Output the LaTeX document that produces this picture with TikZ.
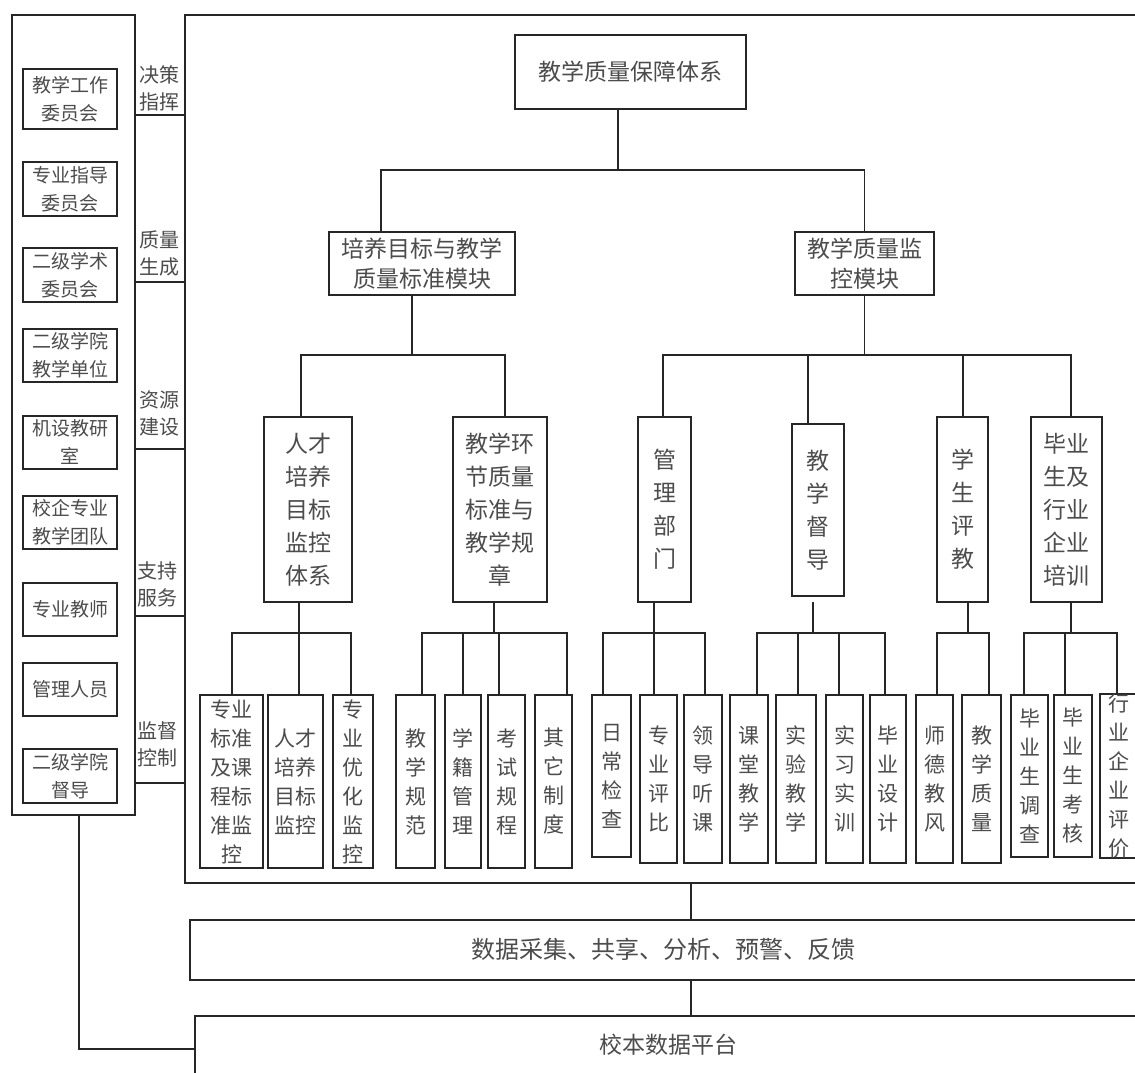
\documentclass[tikz,border=0pt]{standalone}
\usepackage{fontspec}
\setmainfont{Noto Sans CJK SC}
\tikzset{
  bx/.style={draw=black!85, line width=1.8pt, inner sep=0pt, align=center, text=black!70},
  ln/.style={draw=black!85, line width=1.8pt, line cap=rect},
  lab/.style={inner sep=0pt, align=center, text=black!70, font=\fontsize{20}{27}\selectfont},
  txt/.style={inner sep=0pt, align=center, text=black!70},
  fa/.style={font=\fontsize{19}{28}\selectfont},
  fb/.style={font=\fontsize{23}{30}\selectfont},
  fc/.style={font=\fontsize{23}{33}\selectfont},
  fd/.style={font=\fontsize{21}{29}\selectfont},
  fe/.style={font=\fontsize{24}{30}\selectfont}
}
\newcommand\B[7]{\node[bx,#1,minimum width={#5pt-#3pt},minimum height={#6pt-#4pt}] (#2) at ({(#3+#5)/2},{(#4+#6)/2}) {#7};}
\newcommand\kid[3]{\draw[ln] ([xshift=#2pt]#1.north |- #3) -- ([xshift=#2pt]#1.north);}
\newcommand\upl[3]{\draw[ln] ([xshift=#2pt]#1.south) -- ([xshift=#2pt]#1.south |- #3);}
\newcommand\barl[5]{\draw[ln] ([xshift=#2pt]#1.north |- #5) -- ([xshift=#4pt]#3.north |- #5);}
\begin{document}
\begin{tikzpicture}[x=1pt,y=-1pt]
\useasboundingbox (0,0) rectangle (1135,1072);
\clip (0,0) rectangle (1135,1072);
\fill[white] (0,0) rectangle (1135,1072);

% left panel
\B{}{left}{12}{15}{135}{815}{}
\B{fa}{L1}{23}{69}{117}{129}{教学工作\\委员会}
\B{fa}{L2}{23}{162}{117}{216}{专业指导\\委员会}
\B{fa}{L3}{23}{248}{117}{302}{二级学术\\委员会}
\B{fa}{L4}{23}{329}{117}{382}{二级学院\\教学单位}
\B{fa}{L5}{23}{416}{117}{469}{机设教研\\室}
\B{fa}{L6}{23}{496}{117}{549}{校企专业\\教学团队}
\B{fa}{L7}{23}{583}{117}{636}{专业教师}
\B{fa}{L8}{23}{663}{117}{716}{管理人员}
\B{fa}{L9}{23}{749}{117}{803}{二级学院\\督导}

% main frame
\B{}{frame}{185}{15}{1150}{883}{}

% middle labels and links
\node[lab] (g1) at (159,88) {决策\\指挥};
\node[lab] (g2) at (159,254) {质量\\生成};
\node[lab] (g3) at (159,413) {资源\\建设};
\node[lab] (g4) at (157,584) {支持\\服务};
\node[lab] (g5) at (157,744) {监督\\控制};
\foreach \yy [count=\i] in {115,282,449,616,783}{
  \coordinate (h\i) at (0,\yy);
  \draw[ln] (h\i -| left.east) -- (h\i -| frame.west);
}

% top levels
\B{fb}{T}{515}{35}{746}{109}{教学质量保障体系}
\B{fb}{M1}{329}{232}{515}{295}{培养目标与教学\\质量标准模块}
\B{fb}{M2}{795}{232}{934}{295}{教学质量监\\控模块}
\coordinate (b0) at (0,170);
\upl{T}{-12.5}{b0}
\barl{M1}{-41}{M2}{0}{b0}
\kid{M1}{-41}{b0}
\kid{M2}{0}{b0}

% level 3
\B{fc}{P1}{264}{417}{352}{602}{人才\\培养\\目标\\监控\\体系}
\B{fc}{P2}{453}{417}{547}{602}{教学环\\节质量\\标准与\\教学规\\章}
\B{fc}{Q1}{638}{417}{691}{602}{管\\理\\部\\门}
\B{fc}{Q2}{792}{424}{844}{596}{教\\学\\督\\导}
\B{fc}{Q3}{937}{417}{988}{602}{学\\生\\评\\教}
\B{fc}{Q4}{1031}{417}{1102}{602}{毕业\\生及\\行业\\企业\\培训}
\coordinate (b1) at (0,355);
\upl{M1}{-10}{b1}
\barl{P1}{-7}{P2}{5}{b1}
\kid{P1}{-7}{b1}
\kid{P2}{5}{b1}
\upl{M2}{0}{b1}
\barl{Q1}{-1.5}{Q4}{4.5}{b1}
\kid{Q1}{-1.5}{b1}
\kid{Q2}{-10}{b1}
\kid{Q3}{0.5}{b1}
\kid{Q4}{4.5}{b1}

% level 4
\B{fd}{R1}{200}{695}{263}{868}{专业\\标准\\及课\\程标\\准监\\控}
\B{fd}{R2}{268}{695}{323}{868}{人才\\培养\\目标\\监控}
\B{fd}{R3}{333}{695}{373}{868}{专\\业\\优\\化\\监\\控}
\B{fd}{R4}{396}{695}{435}{868}{教\\学\\规\\范}
\B{fd}{R5}{445}{695}{481}{868}{学\\籍\\管\\理}
\B{fd}{R6}{488}{695}{525}{868}{考\\试\\规\\程}
\B{fd}{R7}{535}{695}{572}{868}{其\\它\\制\\度}
\B{fd}{S1}{592}{695}{631}{857}{日\\常\\检\\查}
\B{fd}{S2}{640}{695}{677}{863}{专\\业\\评\\比}
\B{fd}{S3}{684}{695}{722}{863}{领\\导\\听\\课}
\B{fd}{S4}{730}{695}{768}{863}{课\\堂\\教\\学}
\B{fd}{S5}{776}{695}{816}{863}{实\\验\\教\\学}
\B{fd}{S6}{826}{695}{863}{863}{实\\习\\实\\训}
\B{fd}{S7}{870}{695}{906}{863}{毕\\业\\设\\计}
\B{fd}{S8}{916}{695}{953}{863}{师\\德\\教\\风}
\B{fd}{S9}{962}{695}{1001}{863}{教\\学\\质\\量}
\B{fd}{S10}{1011}{695}{1048}{857}{毕\\业\\生\\调\\查}
\B{fd}{S11}{1054}{695}{1092}{857}{毕\\业\\生\\考\\核}
\B{fd}{S12}{1100}{695}{1137}{857}{行\\业\\企\\业\\评\\价}

\coordinate (b2) at (0,633);
\upl{P1}{-9}{b2}
\barl{R1}{0.5}{R3}{-2}{b2}
\kid{R1}{0.5}{b2}\kid{R2}{3.5}{b2}\kid{R3}{-2}{b2}
\upl{P2}{-6}{b2}
\barl{R4}{6.5}{R7}{13.5}{b2}
\kid{R4}{6.5}{b2}\kid{R5}{0}{b2}\kid{R6}{-7.5}{b2}\kid{R7}{13.5}{b2}
\upl{Q1}{-10.5}{b2}
\barl{S1}{-8.5}{S3}{2}{b2}
\kid{S1}{-8.5}{b2}\kid{S2}{-4.5}{b2}\kid{S3}{2}{b2}
\draw[ln] ([xshift=-5pt,yshift=-6pt]Q2.south) -- ([xshift=-5pt]Q2.south |- b2);
\barl{S4}{8}{S7}{-3}{b2}
\kid{S4}{8}{b2}\kid{S5}{2}{b2}\kid{S6}{-5.5}{b2}\kid{S7}{-3}{b2}
\upl{Q3}{5.5}{b2}
\barl{S8}{2.5}{S9}{7.5}{b2}
\kid{S8}{2.5}{b2}\kid{S9}{7.5}{b2}
\upl{Q4}{4.5}{b2}
\barl{S10}{-5.5}{S12}{-1.5}{b2}
\kid{S10}{-5.5}{b2}\kid{S11}{-8}{b2}\kid{S12}{-1.5}{b2}

% bottom
\B{}{data}{190}{920}{1150}{980}{}
\node[txt,fe] (datat) at (663,949) {数据采集、共享、分析、预警、反馈};
\B{}{plat}{195}{1016}{1150}{1082}{}
\node[txt,fb] (platt) at (668,1045) {校本数据平台};
\coordinate (cv) at (691,0);
\draw[ln] (cv |- frame.south) -- (cv |- data.north);
\draw[ln] (cv |- data.south) -- (cv |- plat.north);
\coordinate (lv) at (79,0);
\draw[ln] (lv |- left.south) |- (plat.west);
\end{tikzpicture}
\end{document}
